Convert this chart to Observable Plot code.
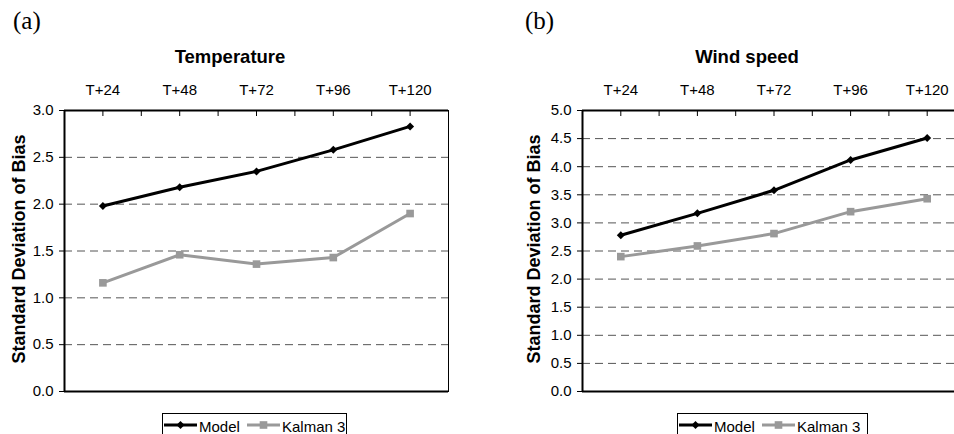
<!DOCTYPE html>
<html>
<head>
<meta charset="utf-8">
<script src="https://cdn.jsdelivr.net/npm/d3@7"></script>
<script src="https://cdn.jsdelivr.net/npm/@observablehq/plot@0.6"></script>
<style>
  body { margin: 0; background: #fff; }
  #root { position: relative; width: 954px; height: 434px; overflow: hidden; background: #fff;
          font-family: Arial, "Liberation Sans", sans-serif; color: #000; }
  .panel { position: absolute; top: 8px; font-family: "Times New Roman", "Liberation Serif", serif;
           font-size: 25px; line-height: 25px; }
  .title { position: absolute; top: 48px; font-weight: bold; font-size: 18.5px; line-height: 18px;
           white-space: nowrap; transform: translateX(-50%); }
  .chart { position: absolute; top: 72px; }
  .legend { position: absolute; top: 413px; height: 30px; border: 1px solid #000; box-sizing: border-box;
            background: #fff; font-size: 15px; line-height: 15px; }
  .legend span { position: absolute; top: 5px; white-space: nowrap; }
  .legend svg { position: absolute; top: 4px; }
</style>
</head>
<body>
<div id="root"></div>
<script>
// ---- data ----
const categories = ["T+24", "T+48", "T+72", "T+96", "T+120"];
const seriesNames = ["Model", "Kalman 3"];
const tempModel  = [1.98, 2.18, 2.35, 2.58, 2.83];
const tempKalman = [1.16, 1.46, 1.36, 1.43, 1.90];
const windModel  = [2.78, 3.17, 3.58, 4.12, 4.51];
const windKalman = [2.40, 2.59, 2.81, 3.20, 3.43];
const tempTicks = [0, 0.5, 1.0, 1.5, 2.0, 2.5, 3.0];
const windTicks = [0, 0.5, 1.0, 1.5, 2.0, 2.5, 3.0, 3.5, 4.0, 4.5, 5.0];
const yTitle = "Standard Deviation of Bias";
const titles = ["Temperature", "Wind speed"];
const panels = ["(a)", "(b)"];

const colors = {"Model": "#000000", "Kalman 3": "#999999"};
const root = document.getElementById("root");

function rowsOf(values, series) {
  return values.map((v, i) => ({series, cat: categories[i], pos: i + 0.5, v}));
}

function makeChart({ticksY, model, kalman, width, marginLeft, marginRight, titleDx}) {
  const n = categories.length;
  const catPos = categories.map((c, i) => i + 0.5);
  const halfTicks = d3.range(1, 2 * n).map(k => k / 2);
  const yMax = d3.max(ticksY);
  const m = rowsOf(model, seriesNames[0]);
  const k = rowsOf(kalman, seriesNames[1]);
  return Plot.plot({
    width, height: 340,
    marginLeft, marginRight, marginTop: 38, marginBottom: 21,
    style: {fontFamily: "Arial, 'Liberation Sans', sans-serif", fontSize: "15px", color: "#000", background: "#fff", overflow: "visible"},
    x: {domain: [0, n], axis: null},
    y: {domain: [0, yMax], axis: null},
    marks: [
      Plot.gridY({ticks: ticksY.filter(t => t > 0 && t < yMax), stroke: "#555", strokeOpacity: 1, strokeDasharray: "8,5"}),
      Plot.axisY({ticks: ticksY, tickSize: 5, tickPadding: 6, tickFormat: d3.format(".1f"), label: null}),
      Plot.axisX({ticks: catPos, anchor: "top", tickSize: 0, tickPadding: 16, tickFormat: d => categories[Math.floor(d)], label: null}),
      Plot.axisX({ticks: halfTicks, anchor: "top", tickSize: -5, tickFormat: () => "", label: null}),
      Plot.frame({stroke: "#000", strokeWidth: 1}),
      Plot.ruleY([0, yMax], {stroke: "#000", strokeWidth: 2}),
      Plot.ruleX([0], {stroke: "#000", strokeWidth: 2}),
      Plot.line(k, {x: "pos", y: "v", stroke: colors["Kalman 3"], strokeWidth: 3, strokeLinejoin: "round"}),
      Plot.dot(k, {x: "pos", y: "v", symbol: "square", r: 4.3, fill: colors["Kalman 3"], stroke: null}),
      Plot.line(m, {x: "pos", y: "v", stroke: colors["Model"], strokeWidth: 3, strokeLinejoin: "round"}),
      Plot.dot(m, {x: "pos", y: "v", symbol: "diamond2", r: 3.6, fill: colors["Model"], stroke: null}),
      Plot.text([yTitle], {frameAnchor: "left", dx: titleDx, dy: -2, rotate: -90, textAnchor: "middle", lineAnchor: "middle", fontWeight: "bold", fontSize: 18, fill: "#000"})
    ]
  });
}

function addDiv(cls, text, left) {
  const d = document.createElement("div");
  d.className = cls; d.textContent = text; d.style.left = left + "px";
  root.appendChild(d); return d;
}

function swatch(color, symbol) {
  const ns = "http://www.w3.org/2000/svg";
  const s = document.createElementNS(ns, "svg");
  s.setAttribute("width", 34); s.setAttribute("height", 14);
  const l = document.createElementNS(ns, "line");
  l.setAttribute("x1", 0); l.setAttribute("x2", 33); l.setAttribute("y1", 7); l.setAttribute("y2", 7);
  l.setAttribute("stroke", color); l.setAttribute("stroke-width", 3);
  s.appendChild(l);
  const p = document.createElementNS(ns, "path");
  const sym = symbol === "square" ? d3.symbolSquare : d3.symbolDiamond2;
  const size = symbol === "square" ? Math.PI * 4.3 * 4.3 : Math.PI * 3.6 * 3.6;
  p.setAttribute("d", d3.symbol(sym, size)());
  p.setAttribute("transform", "translate(16.5,7)");
  p.setAttribute("fill", color);
  s.appendChild(p);
  return s;
}

function addLegend(left, width) {
  const box = document.createElement("div");
  box.className = "legend"; box.style.left = left + "px"; box.style.width = width + "px";
  const sw1 = swatch(colors["Model"], "diamond"); sw1.style.left = "1px"; box.appendChild(sw1);
  const t1 = document.createElement("span"); t1.textContent = seriesNames[0]; t1.style.left = "36px"; box.appendChild(t1);
  const sw2 = swatch(colors["Kalman 3"], "square"); sw2.style.left = "84px"; box.appendChild(sw2);
  const t2 = document.createElement("span"); t2.textContent = seriesNames[1]; t2.style.left = "119px"; box.appendChild(t2);
  root.appendChild(box);
}

// panel (a)
addDiv("panel", panels[0], 13);
addDiv("title", titles[0], 230);
const c1 = makeChart({ticksY: tempTicks, model: tempModel, kalman: tempKalman, width: 477, marginLeft: 64, marginRight: 29, titleDx: -45});
c1.classList.add("chart"); c1.style.left = "0px";
root.appendChild(c1);
addLegend(162, 185);

// panel (b)
addDiv("panel", panels[1], 525);
addDiv("title", titles[1], 747);
const c2 = makeChart({ticksY: windTicks, model: windModel, kalman: windKalman, width: 500, marginLeft: 105, marginRight: 12, titleDx: -48});
c2.classList.add("chart"); c2.style.left = "477px";
root.appendChild(c2);
addLegend(677, 191);
</script>
</body>
</html>
